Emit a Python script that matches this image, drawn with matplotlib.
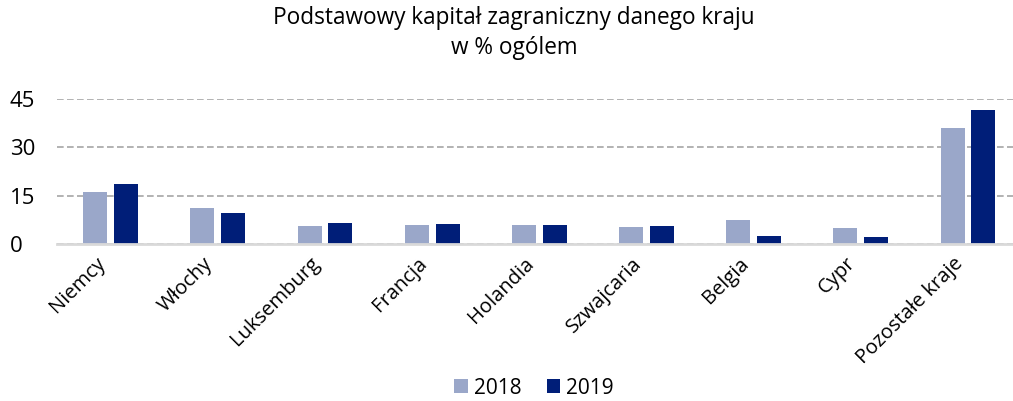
import matplotlib
matplotlib.use("Agg")
import matplotlib.pyplot as plt
import matplotlib.transforms as mtransforms
import numpy as np

categories = ["Niemcy", "Włochy", "Luksemburg", "Francja", "Holandia",
              "Szwajcaria", "Belgia", "Cypr", "Pozostałe kraje"]
values_2018 = [16.2, 11.2, 5.5, 5.8, 5.8, 5.2, 7.5, 4.9, 35.9]
values_2019 = [18.7, 9.5, 6.4, 6.1, 6.0, 5.6, 2.4, 2.1, 41.5]
series_labels = ["2018", "2019"]
yticks = [0, 15, 30, 45]
title = "Podstawowy kapitał zagraniczny danego kraju\nw % ogólem"

plt.rcParams['font.family'] = ['Open Sans', 'DejaVu Sans']

W, H = 1013, 401
fig = plt.figure(figsize=(W / 100, H / 100), dpi=100)
left, right, bottom, top = 57, 1021.6, 244, 99
ax = fig.add_axes([left / W, 1 - bottom / H, (right - left) / W, (bottom - top) / H])

x = np.arange(len(categories))
bw = 0.224
off = 0.144
ax.bar(x - off, values_2018, bw, color="#9aa7c9", label=series_labels[0], zorder=3)
ax.bar(x + off, values_2019, bw, color="#001e78", label=series_labels[1], zorder=3)

ax.set_xlim(-0.5, len(categories) - 0.5)
ax.set_ylim(0, 45)
ax.set_yticks(yticks)
ax.yaxis.grid(True, linestyle=(0, (4, 2)), color="#a6a6a6", linewidth=1.2, zorder=0)
ax.set_axisbelow(True)
for s in ["top", "right", "left"]:
    ax.spines[s].set_visible(False)
ax.spines["bottom"].set_color("#d9d9d9")
ax.spines["bottom"].set_linewidth(2)
ax.spines["bottom"].set_zorder(4)
ax.tick_params(axis="y", length=0, labelsize=16, pad=34)
ax.tick_params(axis="x", length=0, labelsize=14.5, pad=12)
ax.set_xticks(x)
ax.set_xticklabels(categories, rotation=45, ha="right", va="center", rotation_mode="anchor")
shift = mtransforms.ScaledTranslation(-8 / 100, 0, fig.dpi_scale_trans)
for lbl in ax.get_xticklabels():
    lbl.set_transform(lbl.get_transform() + shift)
ax.yaxis.set_major_formatter(matplotlib.ticker.FuncFormatter(lambda v, p: f"{int(v)}"))
for lbl in ax.get_yticklabels():
    lbl.set_horizontalalignment("left")

fig.text(514 / W, 1 - 33 / H, title, ha="center", va="center", fontsize=16.3, linespacing=1.3)

handles, labels = ax.get_legend_handles_labels()
fig.legend(handles, labels, loc="center", bbox_to_anchor=(534 / W, 1 - 388 / H), ncol=2,
           frameon=False, fontsize=15, handlelength=0.65, handleheight=0.65,
           handletextpad=0.3, columnspacing=1.2)

fig.savefig("out.png", dpi=100)
